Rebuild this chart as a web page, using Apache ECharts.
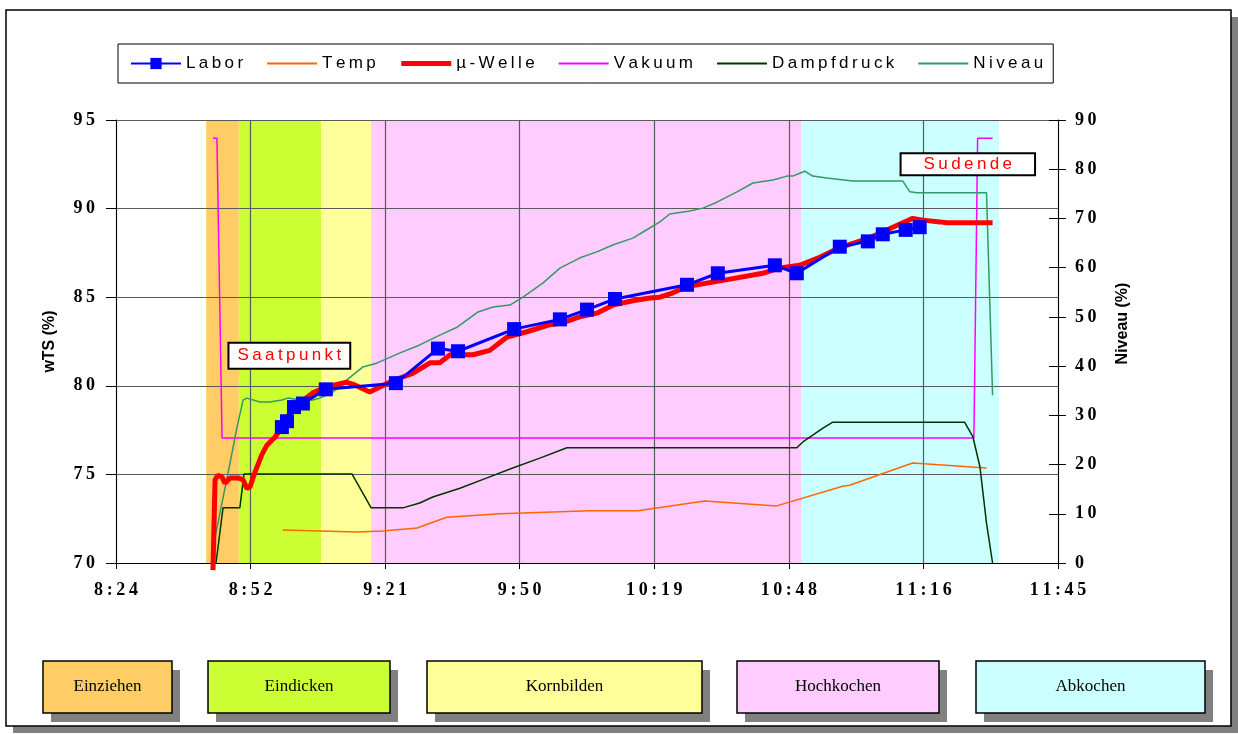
<!DOCTYPE html>
<html>
<head>
<meta charset="utf-8">
<title>Sudverlauf</title>
<script src="https://cdn.jsdelivr.net/npm/echarts@6.0.0/dist/echarts.min.js"></script>
<style>
  html, body { margin: 0; padding: 0; background: #fff; }
  #chart { width: 1238px; height: 734px; }
</style>
</head>
<body>
<div id="chart"></div>
<script>
// x values: minutes after 8:24
const START_MIN = 8 * 60 + 24
const X_STEP = 28.8

const laborT = [35.5, 36.6, 38.1, 40.0, 44.9, 59.9, 68.9, 73.2, 85.2, 95.0, 100.8, 106.8, 122.2, 128.8, 141.0, 145.7, 154.9, 160.9, 164.1, 169.0, 172.0]
const laborV = [77.67, 78.0, 78.8, 79.0, 79.8, 80.15, 82.1, 81.95, 83.2, 83.75, 84.3, 84.9, 85.7, 86.35, 86.8, 86.35, 87.85, 88.15, 88.55, 88.8, 88.95]

const welleT = [20.75, 21.2, 21.8, 22.7, 23.3, 24.4, 26.1, 27.2, 28.0, 28.7, 29.7, 31.2, 32.3, 34.0, 35.5, 37.2, 39.4, 42.1, 45.1, 49.4, 51.1, 54.3, 59.3, 63.5, 67.2, 69.3, 71.5, 76.4, 80.0, 83.7, 87.9, 92.9, 95.6, 99.3, 102.9, 106.3, 110.6, 114.2, 116.4, 119.2, 122.2, 129.9, 138.4, 142.1, 146.3, 150.6, 154.9, 161.3, 167.1, 170.5, 172.7, 176.3, 177.8, 187.6]
const welleV = [69.6, 74.7, 74.95, 74.85, 74.5, 74.8, 74.8, 74.7, 74.2, 74.3, 75.1, 76.1, 76.65, 77.1, 77.65, 78.45, 79.05, 79.6, 79.95, 80.2, 80.05, 79.65, 80.3, 80.7, 81.3, 81.3, 81.75, 81.75, 82.0, 82.75, 83.05, 83.45, 83.55, 83.9, 84.1, 84.55, 84.8, 84.95, 85.0, 85.25, 85.6, 85.95, 86.35, 86.65, 86.8, 87.25, 87.8, 88.35, 89.05, 89.45, 89.35, 89.25, 89.2, 89.2]

const tempT = [35.7, 51.6, 57.1, 64.4, 70.8, 82.2, 101.4, 111.7, 126.0, 141.4, 155.5, 157.0, 170.5, 186.3]
const tempV = [6.7, 6.3, 6.5, 7.1, 9.3, 10.0, 10.6, 10.6, 12.6, 11.6, 15.6, 15.8, 20.3, 19.3]

const vakuumT = [20.75, 21.6, 22.7, 183.6, 184.4, 187.6]
const vakuumV = [86.3, 86.3, 25.4, 25.4, 86.3, 86.3]

const dampfT = [21.4, 22.9, 26.5, 27.4, 50.5, 54.6, 61.4, 65.0, 67.8, 73.6, 79.4, 84.9, 90.7, 96.5, 145.7, 147.0, 151.3, 153.4, 181.6, 183.4, 184.9, 186.3, 187.6]
const dampfV = [0, 11.2, 11.2, 18.1, 18.1, 11.2, 11.2, 12.2, 13.4, 15.2, 17.3, 19.3, 21.3, 23.4, 23.4, 24.6, 27.4, 28.6, 28.6, 25.6, 19.5, 8.1, 0]

const niveauT = [20.75, 22.25, 24.4, 25.9, 27.2, 28.0, 30.8, 32.9, 35.5, 36.8, 39.4, 42.1, 43.6, 46.4, 49.4, 52.8, 55.8, 60.8, 65.0, 69.3, 73.0, 77.5, 80.7, 84.3, 87.1, 91.4, 95.0, 99.3, 102.9, 106.3, 110.6, 113.6, 116.4, 118.5, 122.8, 125.6, 128.6, 132.9, 136.3, 140.6, 143.6, 144.8, 147.4, 149.1, 152.1, 157.7, 168.4, 169.9, 171.4, 186.3, 187.6]
const niveauV = [3.0, 10.2, 20.3, 27.6, 33.1, 33.5, 32.7, 32.7, 33.1, 33.5, 33.1, 33.1, 33.5, 34.7, 37.2, 39.8, 40.6, 42.7, 44.3, 46.3, 47.9, 51.0, 52.0, 52.4, 54.0, 56.9, 59.9, 62.0, 63.2, 64.6, 66.0, 67.7, 69.3, 70.9, 71.5, 72.1, 73.3, 75.4, 77.2, 77.8, 78.6, 78.6, 79.6, 78.6, 78.2, 77.6, 77.6, 75.4, 75.2, 75.2, 34.1]

const phaseNames = ['Einziehen', 'Eindicken', 'Kornbilden', 'Hochkochen', 'Abkochen']
const phaseColors = ['#FFCC66', '#CCFF33', '#FFFF99', '#FFCCFF', '#CCFFFF']
const phaseBounds = [19.3, 26.3, 43.9, 54.6, 146.6, 189.0]

const noteTexts = ['Saatpunkt', 'Sudende']
const noteT = [37.1, 182.3]
const noteV = [81.7, 92.5]

const zip = (xs, ys) => xs.map((x, i) => [x, ys[i]])
const spaced = (s) => String(s).split('').join('\u2009')

const fmtTime = (v) => {
  const m = START_MIN + v + 1e-6
  const h = Math.floor(m / 60)
  const mm = Math.floor(m % 60)
  return spaced(h + ':' + String(mm).padStart(2, '0'))
}

const axisFont = {
  fontFamily: 'Liberation Serif',
  fontWeight: 'bold',
  fontSize: 18,
  color: '#000',
}

const nameFont = { fontFamily: 'Liberation Sans', fontWeight: 'bold', fontSize: 16, color: '#000' }

const thin = (name, color, data) => ({
  name,
  type: 'line',
  yAxisIndex: 1,
  data,
  symbol: 'none',
  lineStyle: { color, width: 1.5 },
  itemStyle: { color },
  z: 3,
})

// bottom phase boxes (layout only)
const boxLayout = [[43, 129], [208, 182], [427, 275], [737, 202], [976, 229]]
const BOX_Y = 661
const BOX_H = 52

const graphic = [
  { type: 'rect', z: -10, shape: { x: 13, y: 17, width: 1225, height: 716 }, style: { fill: '#808080' } },
  { type: 'rect', z: -9, shape: { x: 6, y: 10, width: 1225, height: 716 }, style: { fill: '#fff', stroke: '#000', lineWidth: 1.5 } },
]
phaseNames.forEach((name, i) => {
  const [x, w] = boxLayout[i]
  graphic.push(
    { type: 'rect', z: 5, shape: { x: x + 8, y: BOX_Y + 9, width: w, height: BOX_H }, style: { fill: '#808080' } },
    { type: 'rect', z: 6, shape: { x, y: BOX_Y, width: w, height: BOX_H }, style: { fill: phaseColors[i], stroke: '#000', lineWidth: 1.5 } },
    {
      type: 'text', z: 7, x: x + w / 2, y: BOX_Y + BOX_H / 2,
      style: { text: name, align: 'center', verticalAlign: 'middle', font: '17px "Liberation Serif"', fill: '#000' },
    },
  )
})

const bands = phaseNames.map((name, i) => [
  { xAxis: phaseBounds[i], itemStyle: { color: phaseColors[i] } },
  { xAxis: phaseBounds[i + 1] },
])

const noIcon = { opacity: 0 }

const option = {
  backgroundColor: '#fff',
  animation: false,
  graphic,
  legend: {
    data: [
      { name: 'Labor' },
      { name: 'Temp', itemStyle: noIcon },
      { name: 'µ-Welle', itemStyle: noIcon, lineStyle: { width: 5 } },
      { name: 'Vakuum', itemStyle: noIcon },
      { name: 'Dampfdruck', itemStyle: noIcon },
      { name: 'Niveau', itemStyle: noIcon },
    ],
    left: 118,
    top: 44,
    padding: [11, 10, 11, 12],
    itemGap: 23,
    itemWidth: 50,
    itemHeight: 14,
    borderColor: '#000',
    borderWidth: 1,
    backgroundColor: '#fff',
    formatter: (name) => spaced(name),
    textStyle: { fontFamily: 'Liberation Sans', fontSize: 17, color: '#000' },
  },
  grid: { left: 116, right: 180, top: 120, bottom: 171 },
  xAxis: {
    type: 'value',
    min: 0,
    max: X_STEP * 7,
    interval: X_STEP,
    z: 1.5,
    axisLine: { lineStyle: { color: '#000', width: 1 } },
    axisTick: { show: true, length: 6, lineStyle: { color: '#000' } },
    axisLabel: { ...axisFont, margin: 18, formatter: fmtTime },
    splitLine: { show: true, lineStyle: { color: '#5a5a5a', width: 1.2 } },
  },
  yAxis: [
    {
      type: 'value',
      min: 70,
      max: 95,
      interval: 5,
      z: 1.5,
      name: 'wTS (%)',
      nameLocation: 'middle',
      nameGap: 58,
      nameTextStyle: nameFont,
      axisLine: { show: true, lineStyle: { color: '#000' } },
      axisTick: { show: true, length: 10, lineStyle: { color: '#000' } },
      axisLabel: { ...axisFont, margin: 21, formatter: (v) => spaced(v) },
      splitLine: { show: true, lineStyle: { color: '#5a5a5a', width: 1.2 } },
    },
    {
      type: 'value',
      min: 0,
      max: 90,
      interval: 10,
      z: 1.5,
      position: 'right',
      name: 'Niveau (%)',
      nameLocation: 'middle',
      nameGap: 57,
      nameTextStyle: { ...nameFont, padding: [0, 0, 0, 36] },
      axisLine: { show: true, lineStyle: { color: '#000' } },
      axisTick: { show: true, length: 8, lineStyle: { color: '#000' } },
      axisLabel: { ...axisFont, margin: 17, formatter: (v) => spaced(v) },
      splitLine: { show: false },
    },
    {
      // inner half of the crossing ticks on the right axis
      type: 'value',
      min: 0,
      max: 90,
      interval: 10,
      z: 1.5,
      position: 'right',
      axisLine: { show: false },
      axisTick: { show: true, inside: true, length: 9, lineStyle: { color: '#000' } },
      axisLabel: { show: false },
      splitLine: { show: false },
    },
  ],
  series: [
    {
      name: 'Labor',
      type: 'line',
      data: zip(laborT, laborV),
      symbol: 'rect',
      symbolSize: 14,
      lineStyle: { color: '#0000FF', width: 3 },
      itemStyle: { color: '#0000FF' },
      z: 6,
    },
    thin('Temp', '#FF6600', zip(tempT, tempV)),
    {
      name: 'µ-Welle',
      type: 'line',
      data: zip(welleT, welleV),
      symbol: 'none',
      clip: false,
      lineStyle: { color: '#FF0000', width: 5 },
      itemStyle: { color: '#FF0000' },
      z: 5,
      markArea: {
        silent: true,
        z: 1,
        label: { show: false },
        data: bands,
      },
      markPoint: {
        silent: true,
        symbol: 'rect',
        symbolSize: 0,
        label: {
          show: true,
          position: 'inside',
          color: '#FF0000',
          fontFamily: 'Liberation Sans',
          fontSize: 17,
          backgroundColor: '#fff',
          borderColor: '#000',
          borderWidth: 2,
          formatter: (p) => spaced(p.name),
        },
        data: noteTexts.map((t, i) => ({
          name: t,
          coord: [noteT[i], noteV[i]],
          label: { padding: i === 0 ? [4, 8, 3, 8] : [2, 22, 1, 22] },
        })),
      },
    },
    thin('Vakuum', '#FF00FF', zip(vakuumT, vakuumV)),
    thin('Dampfdruck', '#003300', zip(dampfT, dampfV)),
    thin('Niveau', '#339966', zip(niveauT, niveauV)),
  ],
}

const chart = echarts.init(document.getElementById('chart'))
chart.setOption(option)
window.addEventListener('resize', () => chart.resize())
</script>
</body>
</html>
